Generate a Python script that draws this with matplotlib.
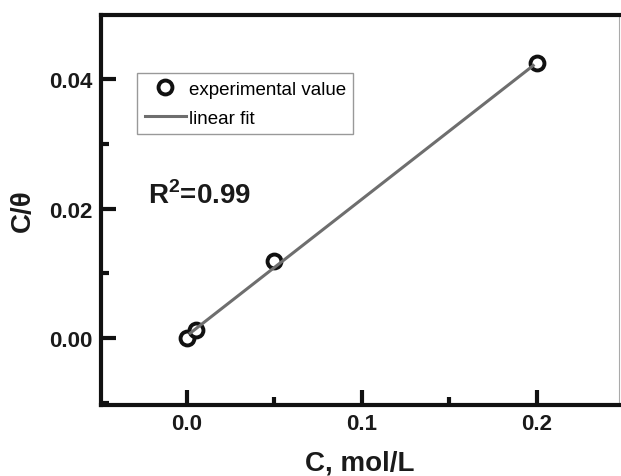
import matplotlib
matplotlib.use("Agg")
import matplotlib.pyplot as plt
from matplotlib.ticker import MultipleLocator

plt.rcParams['font.family'] = ['Liberation Sans', 'DejaVu Sans']

# data
conc = [0.0, 0.005, 0.05, 0.2]
c_theta = [0.0, 0.0012, 0.012, 0.0425]
fit_x = [0.002, 0.198]
fit_y = [0.0008, 0.0421]
x_ticks = [0.0, 0.1, 0.2]
x_ticklabels = ["0.0", "0.1", "0.2"]
y_ticks = [0.00, 0.02, 0.04]
y_ticklabels = ["0.00", "0.02", "0.04"]

fig = plt.figure(figsize=(6.21, 4.77), dpi=100)
ax = fig.add_axes([101/621, 1-406/477, (619-101)/621, (406-16)/477])

ax.plot(conc, c_theta, 'o', mfc='white', mec='#111111', ms=10, mew=2.8,
        label='experimental value', zorder=2)
ax.plot(fit_x, fit_y, '-', color='#6e6e6e', lw=2.2, label='linear fit', zorder=3)

ax.set_xlim(-0.049, 0.247)
ax.set_ylim(-0.0103, 0.0499)

ax.set_xticks(x_ticks)
ax.set_xticklabels(x_ticklabels)
ax.set_yticks(y_ticks)
ax.set_yticklabels(y_ticklabels)
ax.xaxis.set_minor_locator(MultipleLocator(0.05))
ax.yaxis.set_minor_locator(MultipleLocator(0.01))

ax.tick_params(which='major', direction='in', length=11, width=3, labelsize=16,
               top=False, right=False, pad=6, color='#111111')
ax.tick_params(which='minor', direction='in', length=6, width=3,
               top=False, right=False, color='#111111')
for lab in ax.get_xticklabels() + ax.get_yticklabels():
    lab.set_fontweight('bold')
    lab.set_color('#1a1a1a')

for s in ['left', 'bottom', 'top']:
    ax.spines[s].set_linewidth(3)
    ax.spines[s].set_color('#111111')
ax.spines['right'].set_linewidth(0.8)
ax.spines['right'].set_color('#aaaaaa')

ax.set_xlabel('C, mol/L', fontsize=20, fontweight='bold', labelpad=11, color='#1a1a1a')
ax.set_ylabel('C/θ', fontsize=20, fontweight='bold', labelpad=10, color='#1a1a1a')

ax.text(148/621, 1-196/477, 'R$^\\mathregular{2}$=0.99', transform=fig.transFigure,
        fontsize=20, fontweight='bold', va='center', ha='left', color='#1a1a1a')

leg = ax.legend(loc='upper left', bbox_to_anchor=((137-101)/518, (406-74)/390),
                fontsize=13.5, frameon=True, fancybox=False, borderpad=0.4,
                handlelength=2.2, handletextpad=0.15, labelspacing=0.65,
                borderaxespad=0)
leg.get_frame().set_edgecolor('#808080')
leg.get_frame().set_linewidth(1.0)

fig.savefig('out.png', dpi=100)
